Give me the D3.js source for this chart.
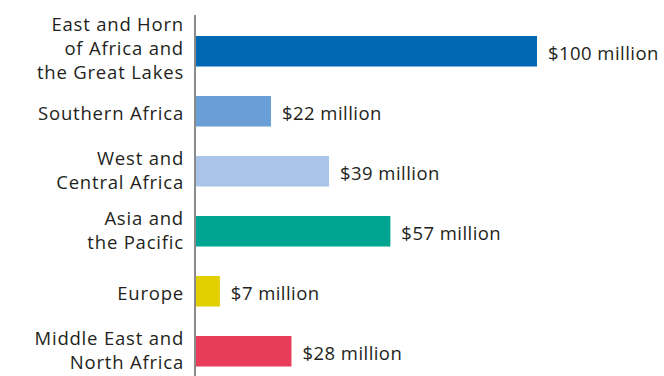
<!DOCTYPE html>
<html>
<head>
<meta charset="utf-8">
<script src="https://cdn.jsdelivr.net/npm/d3@7"></script>
<style>
  body { margin: 0; background: #fff; }
  svg text { font-family: "Open Sans", sans-serif; fill: #231f20; }
</style>
</head>
<body>
<div id="chart"></div>
<script>
// region labels, one entry per line
var regions = [
  ["East and Horn", "of Africa and", "the Great Lakes"],
  ["Southern Africa"],
  ["West and", "Central Africa"],
  ["Asia and", "the Pacific"],
  ["Europe"],
  ["Middle East and", "North Africa"]
]
var funding = [100, 22, 39, 57, 7, 28]
var barColors = ["#0068b3", "#6a9ed6", "#a8c4e8", "#00a591", "#e2cf00", "#e83c5b"]

var width = 664, height = 376
var axisX = 195

var svg = d3.select("#chart").append("svg")
  .attr("width", width).attr("height", height)

var keys = regions.map(function (d) { return d.join(" ") })

var ys = d3.scaleBand().domain(keys).range([21, 381])
  .paddingInner(0.5).paddingOuter(0.25)
var xs = d3.scaleLinear().domain([0, 100]).range([axisX + 1, 537])

var rows = svg.selectAll("g.row")
  .data(funding)
  .enter()
  .append("g")
  .attr("class", "row")

rows.append("rect")
  .attr("x", xs(0))
  .attr("y", function (d, i) { return ys(keys[i]) })
  .attr("width", function (d) { return xs(d) - xs(0) })
  .attr("height", ys.bandwidth() + 0.5)
  .attr("fill", function (d, i) { return barColors[i] })

// value labels
rows.append("text")
  .attr("x", function (d) { return xs(d) + 11 })
  .attr("y", function (d, i) { return ys(keys[i]) + ys.bandwidth() / 2 + 2.2 })
  .attr("dy", "0.35em")
  .style("font-size", "18.5px")
  .style("letter-spacing", "0.45px")
  .text(function (d) { return "$" + d + " million" })

// category labels
var lineH = 24
rows.append("text")
  .attr("text-anchor", "end")
  .style("font-size", "18.5px")
  .style("letter-spacing", "0.8px")
  .each(function (d, i) {
    var lines = regions[i]
    var mid = ys(keys[i]) + ys.bandwidth() / 2 + 2.2 - (lines.length - 1) * 2.2
    var top = mid - (lines.length - 1) * lineH / 2
    d3.select(this).selectAll("tspan")
      .data(lines)
      .enter()
      .append("tspan")
      .attr("x", axisX - 11)
      .attr("y", function (l, j) { return top + j * lineH })
      .attr("dy", "0.35em")
      .text(function (l) { return l })
  })

// axis line
svg.append("line")
  .attr("x1", axisX).attr("x2", axisX)
  .attr("y1", 15).attr("y2", height)
  .attr("stroke", "#4d4d4d")
  .attr("stroke-width", 1.3)
</script>
</body>
</html>
